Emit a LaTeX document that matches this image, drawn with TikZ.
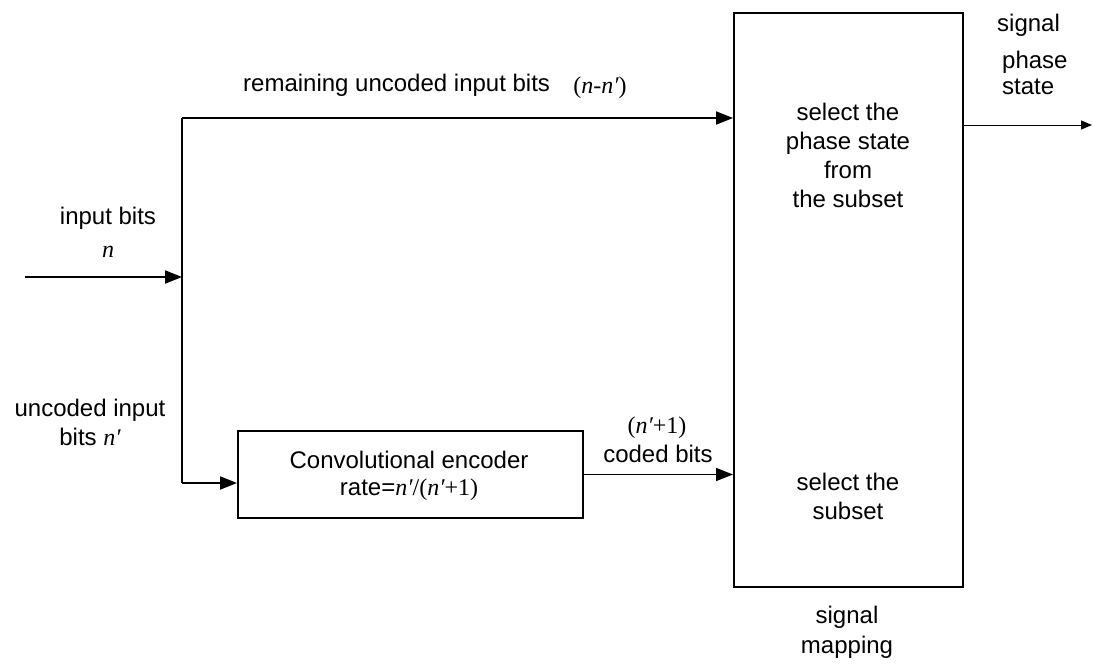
\documentclass[tikz,border=0pt]{standalone}
\usepackage{fontspec}
\setmainfont{Liberation Sans}
\newfontfamily\mathserif{Liberation Serif}
\usetikzlibrary{arrows.meta}
\newcommand{\vn}{{\mathserif\itshape n}}
\newcommand{\vnp}{{\mathserif\itshape n\/\char"2032}}
\tikzset{
  lbl/.style={font=\fontsize{24}{29}\selectfont, align=center, inner sep=0pt},
  blk/.style={draw, line width=2pt},
  wire/.style={line width=2pt},
  arr/.style={wire, -{Triangle[length=17pt,width=13pt]}},
  thinarr/.style={line width=1pt, -{Triangle[length=11pt,width=9pt]}},
}
\begin{document}
\begin{tikzpicture}[x=1pt,y=-1pt]
\useasboundingbox (0,0) rectangle (1093,665);
% blocks
\node[blk, anchor=north west, minimum width=229pt, minimum height=574pt, inner sep=0pt] (map) at (733,12) {};
\node[blk, anchor=north west, minimum width=345pt, minimum height=87pt, inner sep=0pt] (enc) at (237,430) {};
\node[lbl] (enc1) at (409,460) {Convolutional encoder};
\node[lbl] (enc2) at (409,490) {rate=\vnp{\mathserif/(}\vnp{\mathserif+1)}};
% wiring points
\coordinate (src) at (25,277);
\coordinate (split) at (182,277);
\coordinate (up) at (182,118);
\coordinate (down) at (182,483);
\coordinate (out) at (1092,125);
% connectors
\draw[arr] (src) -- (split);
\draw[wire] (up) -- (down);
\draw[arr] (up) -- (map.west |- up);
\draw[arr] (down) -- (enc.west |- down);
\draw[arr, line width=1.5pt] (enc.east) -- (map.west |- enc.east);
\draw[thinarr] (map.east |- out) -- (out);
% labels
\node[lbl, anchor=west] (rem) at (243,85) {remaining uncoded input bits};
\node[lbl] (remn) at (600,88) {{\mathserif(}\vn{\mathserif-}\vnp{\mathserif)}};
\node[lbl] (seltop) at (848,155) {select the\\phase state\\from\\the subset};
\node[lbl] (selbot) at (848,496) {select the\\subset};
\node[lbl] (inb) at (108,218) {input bits};
\node[lbl] (inn) at (108,252) {\vn};
\node[lbl] (unc) at (90,422) {uncoded input\\bits \vnp};
\node[lbl] (codedn) at (657,428) {{\mathserif(}\vnp{\mathserif+1)}};
\node[lbl] (coded) at (658,454) {coded bits};
\node[lbl, anchor=west] (sig1) at (997,25) {signal};
\node[lbl, anchor=west] (sig2) at (1002,62) {phase};
\node[lbl, anchor=west] (sig3) at (1002,87) {state};
\node[lbl, font=\fontsize{24}{30}\selectfont] (mapname) at (847,632) {signal\\mapping};
\end{tikzpicture}
\end{document}
